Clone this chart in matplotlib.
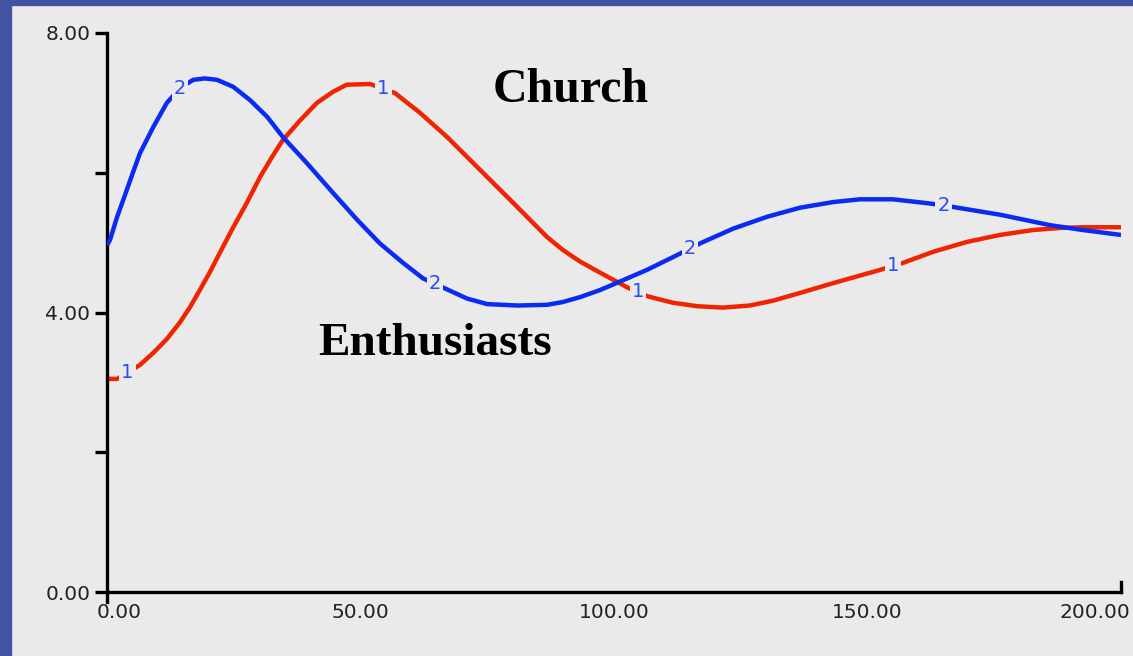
import matplotlib.pyplot as plt
import matplotlib.transforms as mtransforms
from matplotlib.patches import Rectangle
import numpy as np

# Series 1 (red)
t1 = [0, 2, 6.5, 9.1, 11.8, 14.4, 16.4, 18.3, 20.3, 22.3, 24.6, 27.5, 30.2, 32.5,
      34.7, 38.1, 41.4, 44.6, 47.3, 51.9, 56.8, 61.7, 67.1, 73.6, 80.1, 86.8,
      90, 93.3, 96.5, 99.8, 102.6, 106.7, 111.6, 116.4, 121.5, 126.8, 131.4,
      136.7, 143.2, 152.5, 157, 163, 169.6, 176.1, 182.6, 188, 192.5, 200]
y1 = [3.05, 3.05, 3.25, 3.42, 3.62, 3.86, 4.08, 4.32, 4.58, 4.86, 5.18, 5.56, 5.94,
      6.22, 6.47, 6.75, 7.0, 7.16, 7.26, 7.27, 7.14, 6.86, 6.51, 6.04, 5.57, 5.08,
      4.89, 4.73, 4.6, 4.47, 4.36, 4.23, 4.14, 4.09, 4.07, 4.1, 4.17,
      4.28, 4.42, 4.61, 4.71, 4.87, 5.01, 5.11, 5.18, 5.21, 5.22, 5.22]

# Series 2 (blue)
t2 = [0, 0.6, 2, 3.2, 5.1, 6.5, 9.1, 11.8, 14.4, 17, 19.3, 21.7, 24.9, 28.2, 31.6,
      34.7, 39.4, 44.6, 49.3, 53.8, 58.4, 62.3, 67.1, 71, 75, 81, 86.8, 89.9,
      93.3, 97.2, 99.8, 106.5, 112.4, 117, 123.5, 130.2, 136.7, 143.2, 148.5,
      155, 162.3, 166.9, 176.1, 186, 192.5, 200]
y2 = [4.96, 5.04, 5.37, 5.61, 6.0, 6.28, 6.65, 7.0, 7.21, 7.33, 7.35, 7.33, 7.23, 7.04,
      6.8, 6.51, 6.14, 5.71, 5.33, 4.99, 4.71, 4.49, 4.33, 4.2, 4.12, 4.1, 4.11, 4.15,
      4.22, 4.32, 4.4, 4.61, 4.82, 4.99, 5.2, 5.37, 5.5, 5.58, 5.62,
      5.62, 5.56, 5.51, 5.4, 5.25, 5.18, 5.11]

# where the line number markers sit
mark_t1 = [4, 54.5, 104.7, 155]
mark_t2 = [14.4, 64.7, 115, 165]

xticks = [0, 50, 100, 150, 200]
xlabels = ['0.00', '50.00', '100.00', '150.00', '200.00']
yticks = [0, 2, 4, 6, 8]
ylabels = ['0.00', '', '4.00', '', '8.00']

bg = '#eaeaea'
red = '#f02400'
blue = '#0a2cf2'

fig = plt.figure(figsize=(11.33, 6.56), dpi=100, facecolor=bg)
# blue frame on left and top
fig.patches.append(Rectangle((0, 0), 11 / 1133, 1, transform=fig.transFigure,
                             color='#4253a3', zorder=0))
fig.patches.append(Rectangle((0, 1 - 5 / 656), 1, 5 / 656, transform=fig.transFigure,
                             color='#4253a3', zorder=0))

ax = fig.add_axes([107 / 1133, 64 / 656, 1014 / 1133, 559 / 656])
ax.set_facecolor(bg)

ax.plot(t1, y1, color=red, linewidth=3.2, solid_capstyle='butt',
        solid_joinstyle='round', zorder=2)
ax.plot(t2, y2, color=blue, linewidth=3.2, solid_capstyle='butt',
        solid_joinstyle='round', zorder=3)

for t in mark_t1:
    ax.text(t, np.interp(t, t1, y1), '1', color='#2a4df0', fontsize=14,
            ha='center', va='center', zorder=4,
            bbox=dict(facecolor=bg, edgecolor='none', pad=1.5))
for t in mark_t2:
    ax.text(t, np.interp(t, t2, y2), '2', color='#2a4df0', fontsize=14,
            ha='center', va='center', zorder=4,
            bbox=dict(facecolor=bg, edgecolor='none', pad=1.5))

ax.text(464 / 1014 * 200, 7.01, 'Church', fontsize=34.5, fontweight='bold',
        family='Liberation Serif', ha='center', va='baseline')
ax.text(328 / 1014 * 200, 3.39, 'Enthusiasts', fontsize=34, fontweight='bold',
        family='Liberation Serif', ha='center', va='baseline')

ax.set_xlim(0, 200)
ax.set_ylim(0, 8)
ax.set_xticks(xticks)
ax.set_xticklabels(xlabels)
ax.set_yticks(yticks)
ax.set_yticklabels(ylabels)
for s in ['top', 'right']:
    ax.spines[s].set_visible(False)
for s in ['left', 'bottom']:
    ax.spines[s].set_linewidth(2.4)
    ax.spines[s].set_color('black')
ax.spines['left'].set_bounds(-0.15, 8)

ax.tick_params(axis='y', length=9, width=2.4, color='black', labelsize=14.5,
               labelcolor='#222222', pad=3)
ax.tick_params(axis='x', direction='in', length=0, labelsize=14.5,
               labelcolor='#222222', pad=8)
ax.plot([200, 200], [0, 0.15], color='black', linewidth=2.4, clip_on=False)

labs = ax.get_xticklabels()
labs[0].set_ha('left')
labs[0].set_transform(labs[0].get_transform() +
                      mtransforms.ScaledTranslation(-0.1, 0, fig.dpi_scale_trans))
labs[-1].set_ha('right')
labs[-1].set_transform(labs[-1].get_transform() +
                       mtransforms.ScaledTranslation(0.09, 0, fig.dpi_scale_trans))

fig.savefig('out.png', dpi=100, facecolor=bg)
